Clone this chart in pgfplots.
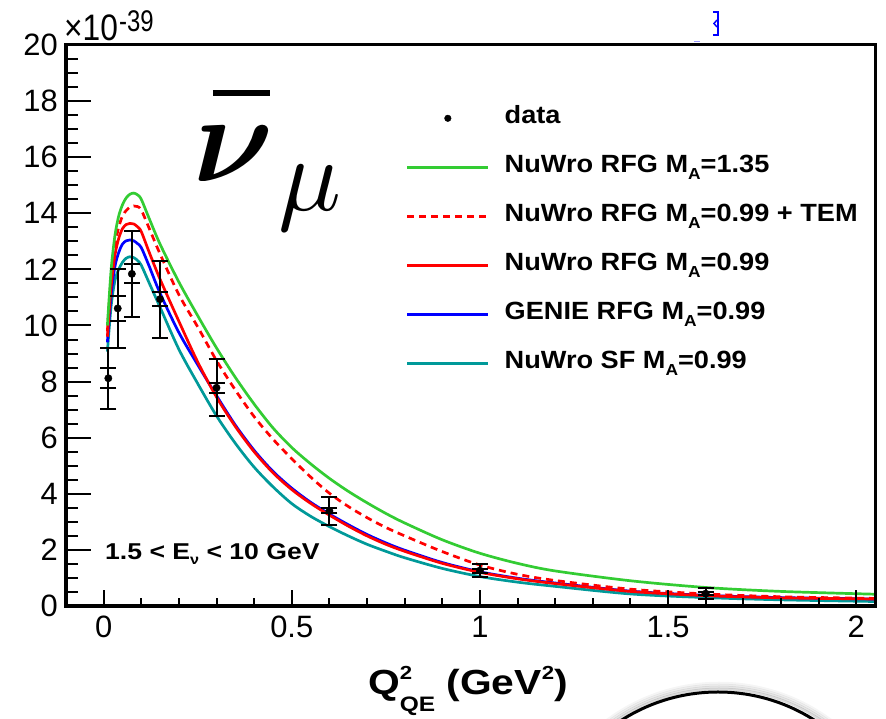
\documentclass[border=0pt]{standalone}
\usepackage{pgfplots}
\usepackage{pgfplotstable}
\pgfplotsset{compat=1.18}
\usepackage{bm}
\usepackage{fontspec}
\setmainfont{Liberation Sans}

\definecolor{rgreen}{RGB}{51,204,51}
\definecolor{rteal}{RGB}{0,153,153}
\definecolor{rblue}{RGB}{0,0,255}
\definecolor{rred}{RGB}{255,0,0}

\newcommand{\subA}{\raisebox{-7bp}{\fontsize{16}{16}\selectfont A}}
\newcommand{\wide}[1]{\scalebox{1.09}[1]{#1}}

% measured cross section, with inner (stat) and outer (total) uncertainties
\pgfplotstableread{
x       y      stat   tot
0.0125  8.12   0.36   1.09
0.0375  10.61  0.45   1.40
0.075   11.84  0.34   1.54
0.15    10.94  0.24   1.37
0.30    7.78   0.17   1.02
0.60    3.39   0.09   0.50
1.00    1.26   0.07   0.23
1.60    0.44   0.05   0.20
}\datatable

% model predictions: g = NuWro RFG MA=1.35, d = NuWro RFG MA=0.99 + TEM,
% r = NuWro RFG MA=0.99, b = GENIE RFG MA=0.99, t = NuWro SF MA=0.99
\pgfplotstableread{
x     g      d      r      b      t
0.01  10.0   9.8    9.6    9.4    9.07
0.02  12.0   11.7   11.4   11.1   10.7
0.03  13.2   12.85  12.5   12.1   11.6
0.04  13.9   13.5   13.1   12.6   12.0
0.05  14.3   13.9   13.45  12.9   12.25
0.06  14.55  14.1   13.6   13.02  12.4
0.07  14.68  14.22  13.64  13.05  12.45
0.08  14.72  14.26  13.62  13.02  12.42
0.09  14.66  14.24  13.52  12.92  12.32
0.10  14.5   14.12  13.35  12.78  12.15
0.12  13.85  13.5   12.65  12.15  11.55
0.15  12.9   12.55  11.65  11.15  10.65
0.20  11.55  11.1   10.15  9.75   9.15
0.25  10.35  9.95   8.7    8.6    7.93
0.30  9.2    8.75   7.45   7.5    6.78
0.35  8.15   7.7    6.4    6.45   5.8
0.40  7.2    6.75   5.5    5.55   4.95
0.45  6.35   5.95   4.75   4.8    4.25
0.50  5.65   5.25   4.15   4.2    3.65
0.55  5.07   4.6    3.66   3.7    3.2
0.60  4.55   4.02   3.24   3.28   2.83
0.65  4.09   3.55   2.85   2.9    2.5
0.70  3.68   3.15   2.5    2.55   2.2
0.75  3.3    2.8    2.2    2.25   1.95
0.80  2.96   2.5    1.95   1.99   1.72
0.90  2.36   1.94   1.52   1.55   1.34
1.00  1.88   1.46   1.2    1.22   1.05
1.10  1.52   1.13   0.97   0.99   0.85
1.20  1.25   0.91   0.8    0.82   0.7
1.40  0.9    0.6    0.52   0.53   0.43
1.60  0.66   0.43   0.37   0.38   0.3
1.80  0.52   0.33   0.29   0.3    0.22
2.05  0.42   0.27   0.25   0.25   0.16
}\curvetable

\begin{document}
\begin{tikzpicture}
\pgfplotsset{
  frame/.style={
    scale only axis, width=809bp, height=561bp,
    xmin=-0.1, xmax=2.05, ymin=0, ymax=20,
    axis line style={line width=3bp, black},
    tick align=inside, xtick pos=left, ytick pos=left,
    tick style={line width=2bp, black},
    ticklabel style={font=\fontsize{31}{31}\selectfont},
    /pgf/number format/assume math mode=true,
  },
  errs/.style={
    error bars/.cd, y dir=both, y explicit,
    error bar style={line width=2bp, black},
    error mark=-,
    error mark options={rotate=90, line width=2bp, mark size=8bp, black},
  },
}
% main axis: y ticks, curves, data, legend
\begin{axis}[frame,
  ytick={0,2,...,20}, minor y tick num=3,
  xtick=\empty,
  major tick length=25bp, minor tick length=12bp,
  yticklabel style={inner sep=0pt, xshift=-8bp},
  legend style={
    at={(axis description cs:0.42,0.892)}, anchor=north west,
    draw=none, fill=none, inner sep=0pt,
    font=\bfseries\fontsize{25}{25}\selectfont,
    row sep=24bp,
    nodes={inner sep=0pt, text height=18bp, text depth=7bp},
    /tikz/every odd column/.style={column sep=15bp},
  },
  legend cell align=left,
  legend image code/.code={\draw[mark repeat=2,mark phase=2,#1] plot coordinates {(0bp,0bp) (40.5bp,0bp) (81bp,0bp)};},
]
\addlegendimage{only marks, mark=*, mark size=3.3bp, black}
\addlegendentry{\wide{data}}
\addlegendimage{rgreen, line width=2.7bp}
\addlegendentry{\wide{NuWro RFG M\subA=1.35}}
\addlegendimage{rred, line width=2.7bp, dash pattern=on 7bp off 5bp}
\addlegendentry{\wide{NuWro RFG M\subA=0.99 + TEM}}
\addlegendimage{rred, line width=2.7bp}
\addlegendentry{\wide{NuWro RFG M\subA=0.99}}
\addlegendimage{rblue, line width=2.7bp}
\addlegendentry{\wide{GENIE RFG M\subA=0.99}}
\addlegendimage{rteal, line width=2.7bp}
\addlegendentry{\wide{NuWro SF M\subA=0.99}}

\addplot[forget plot, rteal, line width=2.7bp, smooth] table[x=x, y=t]{\curvetable};
\addplot[forget plot, rblue, line width=2.7bp, smooth] table[x=x, y=b]{\curvetable};
\addplot[forget plot, rred, line width=2.7bp, smooth] table[x=x, y=r]{\curvetable};
\addplot[forget plot, rred, line width=2.7bp, smooth, dash pattern=on 7bp off 5bp] table[x=x, y=d]{\curvetable};
\addplot[forget plot, rgreen, line width=2.7bp, smooth] table[x=x, y=g]{\curvetable};

\addplot[forget plot, black, only marks, mark=*, mark size=3.7bp, errs]
  table[x=x, y=y, y error=tot]{\datatable};
\addplot[forget plot, black, only marks, mark=none, errs]
  table[x=x, y=y, y error=stat]{\datatable};
\end{axis}

% x ticks with their own lengths
\begin{axis}[frame,
  ytick=\empty,
  xtick={0,0.5,1,1.5,2}, minor x tick num=4,
  major tick length=16bp, minor tick length=8bp,
  xticklabel style={inner sep=0pt, yshift=-10bp},
]
\end{axis}

\begin{scope}[x=1bp, y=-1bp, shift={(-66bp,606bp)}]
  % axis multiplier
  \node[anchor=base west, inner sep=0pt] at (64,40.7)
    {\scalebox{0.86}[1]{\fontsize{37}{37}\selectfont ×10}};
  \node[anchor=base west, inner sep=0pt] at (119,32)
    {\scalebox{0.8}[1]{\fontsize{30}{30}\selectfont -39}};
  % antineutrino symbol
  \node[anchor=base west, inner sep=0pt] at (193,182)
    {\scalebox{12.5}{$\bm{\nu}$}};
  \node[anchor=base west, inner sep=0pt] at (278,211)
    {\scalebox{10.5}{$\mu$}};
  \draw[line width=6bp] (213,93) -- (270,93);
  % energy range
  \node[anchor=base west, inner sep=0pt, font=\bfseries\fontsize{23}{23}\selectfont] at (105,560)
    {\scalebox{1.16}[1]{1.5 < E\raisebox{-5bp}{\fontsize{14}{14}\selectfont ν} < 10 GeV}};
  % x axis title
  \node[anchor=base west, inner sep=0pt, font=\bfseries\fontsize{35}{35}\selectfont] at (368,695)
    {\scalebox{1.17}[1]{Q\rlap{\raisebox{15bp}{\fontsize{19}{19}\selectfont 2}}\raisebox{-17bp}{\fontsize{21}{21}\selectfont QE} (GeV\raisebox{15bp}{\fontsize{19}{19}\selectfont 2})}};
  % stray blue glyph fragment
  \draw[rblue, line width=2bp] (713,12) -- (718,12) -- (718,35) -- (713,35);
  \draw[rblue, line width=1.5bp] (717,20) -- (714,23.5) -- (717,27);
  \draw[rblue!40, line width=1bp] (694,42) -- (700,42);
  % round badge with soft shadow
  \foreach \r/\o in {9/0.04,7/0.07,5/0.1,3/0.14} {
    \draw[black, opacity=\o, line width=2.5bp] (719,871) circle[radius=179+\r];
  }
  \draw[black, line width=3bp] (718,871) circle[radius=179];
\end{scope}

\pgfresetboundingbox
\useasboundingbox (-66bp,-113bp) rectangle (820bp,606bp);
\end{tikzpicture}
\end{document}
